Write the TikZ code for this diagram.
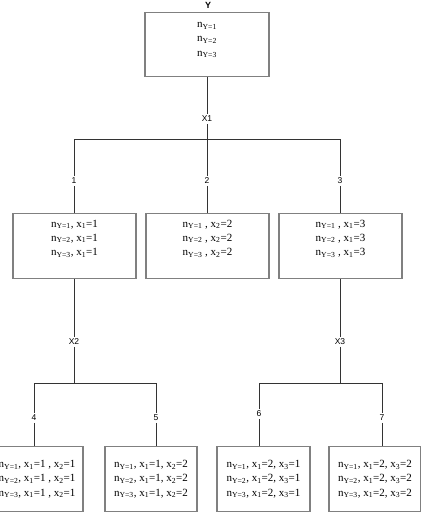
\documentclass[tikz,border=0pt]{standalone}
\usepackage{fontspec}
\setmainfont{Liberation Serif}
\setsansfont{Liberation Sans}
\newcommand{\nY}[1]{n\textsubscript{Y=#1}}
\newcommand{\xs}[1]{x\textsubscript{#1}}

\begin{document}
\begin{tikzpicture}[x=1pt,y=-1pt,every node/.style={inner sep=1.5pt},
    lbl/.style={font=\sffamily\fontsize{8.5}{10}\selectfont},
    box/.style={draw=black!50,line width=1.1pt,inner sep=0pt,anchor=north,
      align=center,font=\fontsize{11}{14.2}\selectfont,minimum width=#1},
    toprow/.style={text height=43.5pt,text depth=20.5pt},
    midrow/.style={text height=42pt,text depth=23pt},
    lowrow/.style={text height=49.5pt,text depth=15.5pt}]
  \useasboundingbox (0,0) rectangle (420,518);
  \tikzset{every path/.style={draw=black!80,line width=0.8pt}}
  % root
  \node[lbl,font=\sffamily\bfseries\fontsize{9}{10}\selectfont] (y) at (208,5) {Y};
  \node[box=124,toprow] (top) at (207,12) {\nY1\\\nY2\\\nY3};
  \node[lbl] (x1) at (207,119) {X1};
  \coordinate (j1) at (207,139);
  \node[lbl] (c1) at (74,181) {1};
  \node[lbl] (c2) at (207,181) {2};
  \node[lbl] (c3) at (340,181) {3};
  \draw (x1 |- top.south)--(x1);
  \draw (x1)--(j1)-|(c1);
  \draw (j1)-|(c3);
  \draw (j1)--(c2);
  % second level
  \node[box=123,midrow] (r1) at (74.5,213)
    {\nY1, \xs1=1\\\nY2, \xs1=1\\\nY3, \xs1=1};
  \node[box=123,midrow] (r2) at (207.5,213)
    {\nY1 , \xs2=2\\\nY2 , \xs2=2\\\nY3 , \xs2=2};
  \node[box=123,midrow] (r3) at (340.5,213)
    {\nY1 , \xs1=3\\\nY2 , \xs1=3\\\nY3 , \xs1=3};
  \draw (c1)--(c1 |- r1.north);
  \draw (c2)--(c2 |- r2.north);
  \draw (c3)--(c3 |- r3.north);
  \node[lbl] (x2) at (74,342) {X2};
  \node[lbl] (x3) at (340,342) {X3};
  \draw (x2 |- r1.south)--(x2);
  \draw (x3 |- r3.south)--(x3);
  \coordinate (j2) at (74,383);
  \coordinate (j3) at (340,383);
  \node[lbl] (c4) at (34,418) {4};
  \node[lbl] (c5) at (156,418) {5};
  \node[lbl] (c6) at (259,414) {6};
  \node[lbl] (c7) at (382,418) {7};
  \draw (x2)--(j2)-|(c4);
  \draw (j2)-|(c5);
  \draw (x3)--(j3)-|(c6);
  \draw (j3)-|(c7);
  % leaves
  \node[box=92,lowrow] (b4) at (37,446)
    {\nY1, \xs1=1 , \xs2=1\\\nY2, \xs1=1 , \xs2=1\\\nY3, \xs1=1 , \xs2=1};
  \node[box=92,lowrow] (b5) at (151,446)
    {\nY1, \xs1=1, \xs2=2\\\nY2, \xs1=1, \xs2=2\\\nY3, \xs1=1, \xs2=2};
  \node[box=93,lowrow] (b6) at (263.5,446)
    {\nY1, \xs1=2, \xs3=1\\\nY2, \xs1=2, \xs3=1\\\nY3, \xs1=2, \xs3=1};
  \node[box=92,lowrow] (b7) at (375,446)
    {\nY1, \xs1=2, \xs3=2\\\nY2, \xs1=2, \xs3=2\\\nY3, \xs1=2, \xs3=2};
  \draw (c4)--(c4 |- b4.north);
  \draw (c5)--(c5 |- b5.north);
  \draw (c6)--(c6 |- b6.north);
  \draw (c7)--(c7 |- b7.north);
\end{tikzpicture}
\end{document}
